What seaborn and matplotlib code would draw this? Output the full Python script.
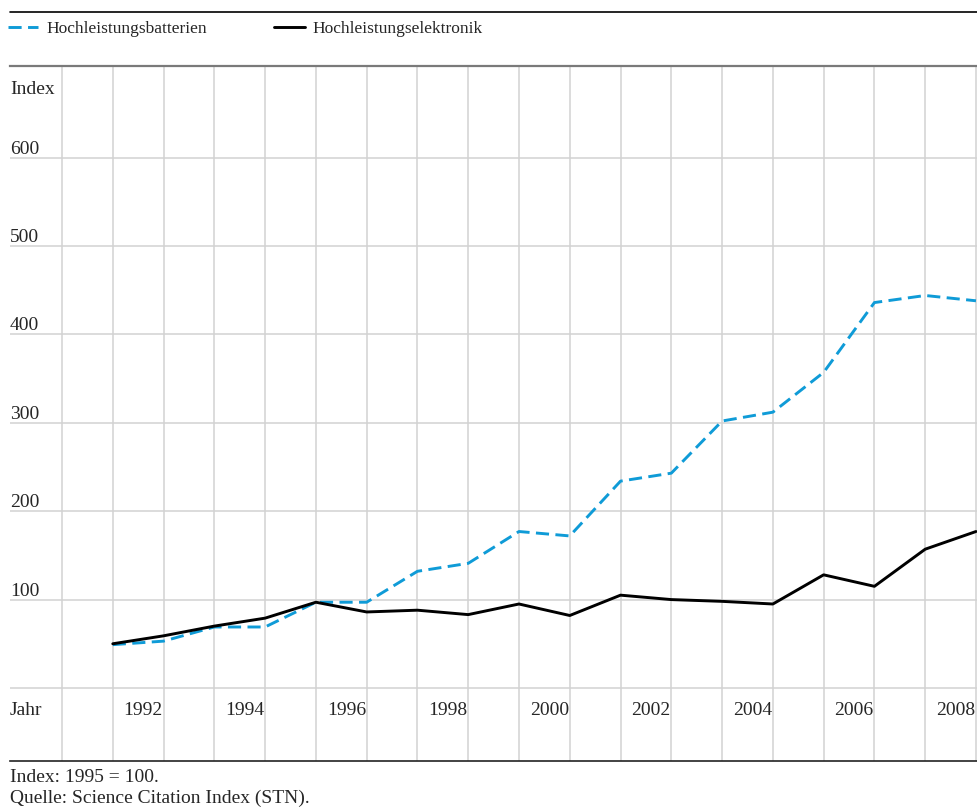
import pandas as pd
import matplotlib
matplotlib.use('Agg')
import matplotlib.pyplot as plt
from matplotlib.lines import Line2D
import seaborn as sns

# ─── Daten ────────────────────────────────────────────────
jahre = list(range(1991, 2009))
batterien = [49, 53, 69, 69, 97, 97, 132, 141, 177, 172, 234, 243, 302, 312, 357, 436, 444, 438]
elektronik = [50, 59, 70, 79, 97, 86, 88, 83, 95, 82, 105, 100, 98, 95, 128, 115, 157, 177]
reihen = ["Hochleistungsbatterien", "Hochleistungselektronik"]
y_ticks = [100, 200, 300, 400, 500, 600]
jahr_labels = [1992, 1994, 1996, 1998, 2000, 2002, 2004, 2006, 2008]

df = pd.DataFrame({
    "Jahr": jahre * 2,
    "Index": batterien + elektronik,
    "Reihe": [reihen[0]] * len(jahre) + [reihen[1]] * len(jahre),
})

sns.set_theme(style="white")
plt.rcParams['font.family'] = ['Liberation Serif', 'DejaVu Serif']
plt.rcParams['font.size'] = 14

BLAU = "#0f9bd7"
GRID = "#d2d2d2"
W, H = 978, 808

fig = plt.figure(figsize=(W / 100, H / 100), dpi=100)
ax = fig.add_axes([10 / W, 1 - 761 / H, 968 / W, (761 - 66) / H])

sns.lineplot(data=df, x="Jahr", y="Index", hue="Reihe", style="Reihe",
             palette={reihen[0]: BLAU, reihen[1]: "black"},
             dashes={reihen[0]: (4.5, 2.2), reihen[1]: ""},
             linewidth=2.1, legend=False, ax=ax, zorder=3)

ax.set_xlim(1988.976, 2008.04)
ax.set_ylim(-82.6, 703.6)
ax.set_xticks(range(1990, 2009))
ax.set_yticks([0] + y_ticks)
ax.set_xticklabels([])
ax.set_yticklabels([])
ax.tick_params(length=0)
ax.grid(True, color=GRID, linewidth=1.1, zorder=0)
ax.set_xlabel("")
ax.set_ylabel("")

for s in ["left", "right"]:
    ax.spines[s].set_visible(False)
ax.spines["top"].set_color("#7a7a7a")
ax.spines["top"].set_linewidth(1.6)
ax.spines["bottom"].set_color("#222222")
ax.spines["bottom"].set_linewidth(1.2)

# y-Beschriftung im Diagramm
ytr = ax.get_yaxis_transform()
for v in y_ticks:
    ax.text(0.0, v + 4.5, str(v), transform=ytr, ha="left", va="baseline", fontsize=14)
ax.text(0.0, 672, "Index", transform=ytr, ha="left", va="baseline", fontsize=14)

# Jahresbeschriftung
ax.text(0.0, -26, "Jahr", transform=ytr, ha="left", va="center", fontsize=14)
for j in jahr_labels:
    ax.text(j - 0.4, -26, str(j), ha="center", va="center", fontsize=14)

# Legende
handles = [Line2D([], [], color=BLAU, lw=2.1, dashes=(4.5, 2.2)),
           Line2D([], [], color="black", lw=2.1)]
fig.legend(handles, reihen, loc="center left", bbox_to_anchor=(1 / W, 1 - 29 / H),
           ncol=2, frameon=False, fontsize=12.5, handlelength=1.75,
           handletextpad=0.45, columnspacing=3.9, borderaxespad=0, borderpad=0.4)

fig.add_artist(Line2D([10 / W, 1], [1 - 12 / H] * 2, color="black", lw=1.2))

# Fußnoten
fig.text(10 / W, 1 - 777 / H, "Index: 1995 = 100.", ha="left", va="center", fontsize=14)
fig.text(10 / W, 1 - 798 / H, "Quelle: Science Citation Index (STN).", ha="left", va="center", fontsize=14)

fig.savefig("out.png", dpi=100)
plt.close()
